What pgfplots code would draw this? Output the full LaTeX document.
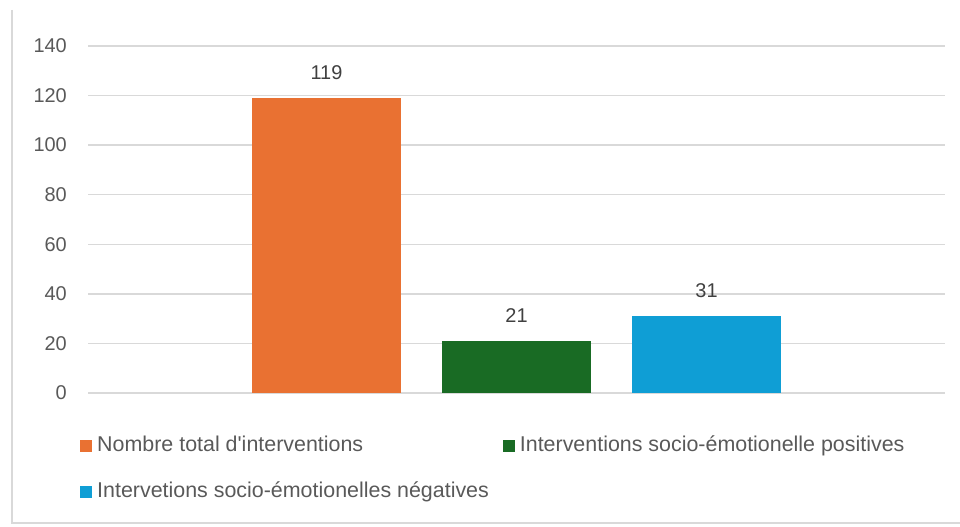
\documentclass[border=0pt]{standalone}
\usepackage{fontspec}
\setmainfont{Liberation Sans}
\usepackage{pgfplots}
\pgfplotsset{compat=1.18}
\definecolor{cOrange}{HTML}{E97132}
\definecolor{cGreen}{HTML}{196B24}
\definecolor{cBlue}{HTML}{0F9ED5}
\definecolor{cGrid}{HTML}{D9D9D9}
\definecolor{cTick}{HTML}{595959}
\definecolor{cLab}{HTML}{404040}
\begin{document}
\begin{tikzpicture}
\useasboundingbox (0,0) rectangle (960bp,527bp);
\draw[cGrid, line width=1.5bp] (12bp,517bp) -- (12bp,4bp) -- (960bp,4bp);
\begin{axis}[
  at={(88bp,134bp)}, anchor=south west,
  scale only axis, width=857bp, height=347bp,
  xmin=-1.255, xmax=3.255, ymin=0, ymax=140,
  ytick distance=20, xtick=\empty,
  axis line style={draw=none},
  major tick length=0pt,
  ymajorgrids, grid style={cGrid, line width=1.5bp},
  /pgf/number format/assume math mode=true,
  yticklabel style={font=\fontsize{20}{24}\selectfont, text=cTick, anchor=east, inner sep=0pt, xshift=-21bp},
  nodes near coords,
  every node near coord/.append style={font=\fontsize{20}{24}\selectfont, text=cLab, anchor=south, inner sep=0pt, yshift=18bp},
  legend columns=2,
  legend image code/.code={\fill[#1] (0bp,-6bp) rectangle (12bp,6bp);},
  legend style={at={(-0.00933,-0.1239)}, anchor=north west, draw=none, fill=none,
    font=\fontsize{21.5}{25}\selectfont, text=cTick, inner sep=0pt,
    nodes={inner sep=0pt, text height=15bp, text depth=4bp},
    row sep=27bp,
    /tikz/every odd column/.append style={column sep=5bp},
    /tikz/every even column/.append style={column sep=14bp},
    cells={anchor=west}},
]
\addplot[ybar, bar width=0.784, bar shift=0pt, fill=cOrange, draw=none] coordinates {(0,119)};
\addlegendentry{Nombre total d\textquotesingle interventions}
\addplot[ybar, bar width=0.784, bar shift=0pt, fill=cGreen, draw=none] coordinates {(1,21)};
\addlegendentry{Interventions socio-émotionelle positives}
\addplot[ybar, bar width=0.784, bar shift=0pt, fill=cBlue, draw=none] coordinates {(2,31)};
\addlegendentry{Intervetions socio-émotionelles négatives}
\end{axis}
\end{tikzpicture}
\end{document}
